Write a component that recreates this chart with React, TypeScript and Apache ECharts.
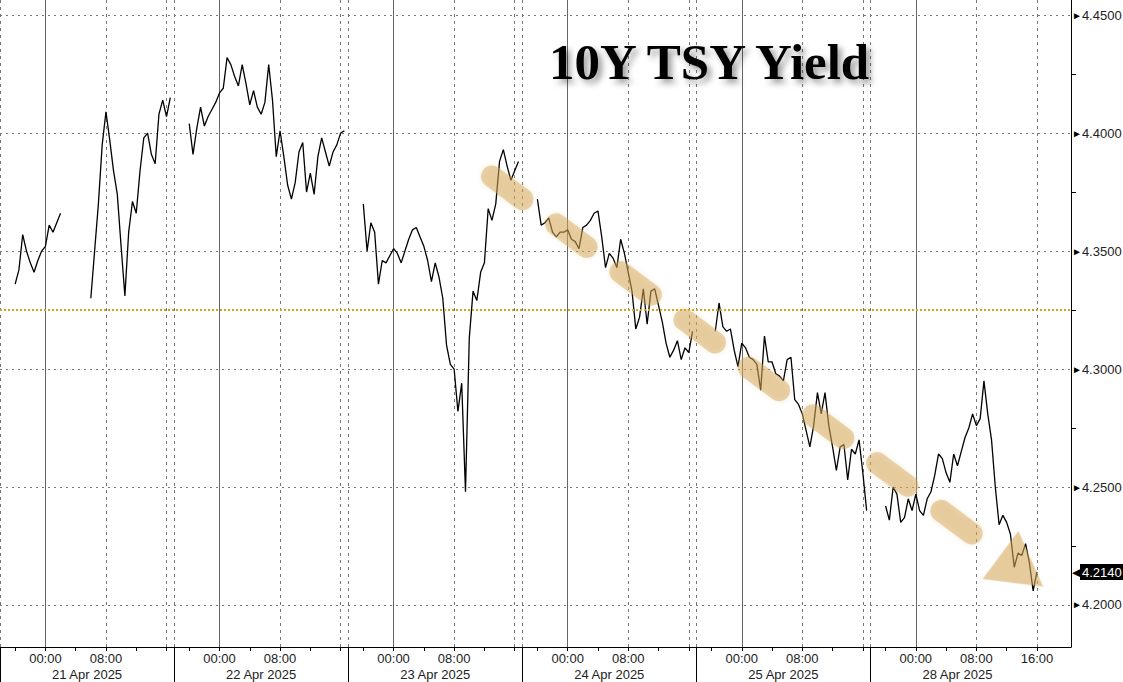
import { useEffect, useRef } from "react";
import * as echarts from "echarts";

// Trading sessions shown on the chart (each session runs 18:00 -> 17:00, 30-min slots)
const days = ["21 Apr 2025", "22 Apr 2025", "23 Apr 2025", "24 Apr 2025", "25 Apr 2025", "28 Apr 2025"];
const SLOTS = 46;
const EXTRA = 8; // empty room after the last session

const _ = null;
// 10Y yield, one value per 30 minutes of each session (null = no trading shown)
const apr21 = [
  _, _, _, _, 4.336, 4.342, 4.357, 4.35, 4.345, 4.341, 4.346, 4.35, 4.352, 4.361, 4.358, 4.362,
  4.366, _, _, _, _, _, _, _, 4.33, 4.35, 4.37, 4.395, 4.409, 4.397, 4.384, 4.374,
  4.352, 4.331, 4.358, 4.371, 4.366, 4.384, 4.398, 4.4, 4.391, 4.387, 4.408, 4.414, 4.407, 4.415,
];
const apr22 = [
  _, _, _, _, 4.404, 4.391, 4.402, 4.411, 4.403, 4.407, 4.41, 4.413, 4.417, 4.419, 4.432, 4.429,
  4.424, 4.42, 4.429, 4.421, 4.412, 4.418, 4.411, 4.408, 4.413, 4.429, 4.414, 4.39, 4.401, 4.39, 4.378, 4.372,
  4.379, 4.392, 4.396, 4.375, 4.383, 4.374, 4.39, 4.398, 4.392, 4.386, 4.392, 4.395, 4.4, 4.401,
];
const apr23 = [
  _, _, _, _, 4.37, 4.35, 4.362, 4.358, 4.336, 4.346, 4.345, 4.348, 4.351, 4.349, 4.345, 4.35,
  4.355, 4.359, 4.36, 4.356, 4.352, 4.346, 4.337, 4.345, 4.339, 4.33, 4.31, 4.302, 4.3, 4.282, 4.294, 4.248,
  4.313, 4.333, 4.329, 4.341, 4.345, 4.368, 4.363, 4.37, 4.388, 4.393, 4.386, 4.38, 4.384, 4.388,
];
const apr24 = [
  _, _, _, _, 4.372, 4.361, 4.362, 4.364, 4.358, 4.356, 4.358, 4.358, 4.359, 4.355, 4.354, 4.351,
  4.36, 4.361, 4.363, 4.366, 4.367, 4.356, 4.343, 4.349, 4.347, 4.343, 4.355, 4.349, 4.341, 4.333, 4.317, 4.322,
  4.334, 4.319, 4.333, 4.334, 4.327, 4.32, 4.311, 4.305, 4.308, 4.312, 4.304, 4.309, 4.307, 4.316,
];
const apr25 = [
  _, _, _, _, _, 4.316, 4.328, 4.318, 4.316, 4.317, 4.308, 4.301, 4.311, 4.309, 4.305, 4.304,
  4.302, 4.291, 4.314, 4.303, 4.303, 4.298, 4.297, 4.295, 4.304, 4.305, 4.287, 4.285, 4.281, 4.274, 4.267, 4.276,
  4.29, 4.281, 4.29, 4.276, 4.267, 4.257, 4.267, 4.268, 4.253, 4.266, 4.264, 4.27, 4.256, 4.24,
];
const apr28 = [
  _, _, _, _, 4.242, 4.236, 4.25, 4.247, 4.235, 4.237, 4.245, 4.24, 4.247, 4.24, 4.238, 4.245,
  4.248, 4.255, 4.264, 4.262, 4.256, 4.252, 4.264, 4.259, 4.265, 4.271, 4.275, 4.281, 4.276, 4.279, 4.295, 4.281,
  4.27, 4.25, 4.234, 4.238, 4.235, 4.23, 4.216, 4.222, 4.221, 4.226, 4.218, 4.206, 4.214, _,
];

const yieldValues = [...apr21, ...apr22, ...apr23, ...apr24, ...apr25, ...apr28, ...Array(EXTRA).fill(null)];
const refLevel = 4.325; // dotted orange reference level
const yRange = [4.1822, 4.4564];

// downtrend arrow annotation, in [slot, yield]
const arrowFrom = [130, 4.3816];
const arrowTo = [257, 4.23];
const arrowHead = [270, 4.2145];

const FONT = '"Liberation Sans", Arial, sans-serif';
const ARROW = "rgba(212, 166, 84, 0.46)";

const slotTime = (s: number) => {
  const m = (18 * 60 + 30 * s) % 1440;
  return `${String(Math.floor(m / 60)).padStart(2, "0")}:${String(m % 60).padStart(2, "0")}`;
};

const categories = [
  ...days.flatMap((d) => Array.from({ length: SLOTS }, (_x, s) => `${d} ${slotTime(s)}`)),
  ...Array.from({ length: EXTRA }, (_x, e) => `${days[days.length - 1]} ${slotTime(SLOTS + e)}`),
];
const N = days.length * SLOTS;
const slotOf = (i: number) => i % SLOTS;
const inSessions = (i: number) => i < N;

const lastValue = [...yieldValues].reverse().find((v) => v != null) as number;

const App = () => {
  const chartRef = useRef<HTMLDivElement>(null);

  useEffect(() => {
    document.body.style.margin = "0";
    const chart = echarts.init(chartRef.current, null, { renderer: "svg" });

    const options = {
      animation: false,
      backgroundColor: "#fff",
      title: {
        text: "10Y TSY Yield",
        left: 544,
        top: 31,
        textStyle: {
          fontFamily: '"Liberation Serif", "Times New Roman", serif',
          fontWeight: "bold",
          fontSize: 51,
          color: "#000",
          textShadowColor: "rgba(0,0,0,0.4)",
          textShadowBlur: 6,
          textShadowOffsetX: 4,
          textShadowOffsetY: 4,
        },
      },
      grid: { left: 0, right: 52, top: 0, bottom: 35, outerBoundsMode: "none" },
      xAxis: [
        {
          type: "category",
          data: categories,
          boundaryGap: false,
          axisLine: { lineStyle: { color: "#000", width: 1 } },
          axisTick: {
            interval: (i: number) => inSessions(i) && slotOf(i) % 8 === 4,
            length: 4,
            lineStyle: { color: "#000" },
          },
          axisLabel: {
            interval: (i: number) => {
              if (!inSessions(i)) return false;
              const s = slotOf(i);
              return s === 12 || s === 28 || (Math.floor(i / SLOTS) === days.length - 1 && s === 44);
            },
            formatter: (v: string) => v.slice(12),
            margin: 5,
            fontSize: 13,
            color: "#222",
            fontFamily: FONT,
          },
          splitLine: {
            show: true,
            interval: (i: number) => inSessions(i) && slotOf(i) === 12,
            lineStyle: { color: "#666", width: 1 },
          },
        },
        {
          type: "category",
          data: categories,
          boundaryGap: false,
          position: "bottom",
          axisLine: { show: false },
          axisTick: {
            interval: (i: number) => inSessions(i) && slotOf(i) === 0,
            length: 35,
            lineStyle: { color: "#000" },
          },
          axisLabel: {
            interval: (i: number) => inSessions(i) && slotOf(i) === 23,
            formatter: (v: string) => v.slice(0, 11),
            margin: 21,
            fontSize: 13,
            color: "#222",
            fontFamily: FONT,
          },
          splitLine: {
            show: true,
            interval: (i: number) => {
              if (!inSessions(i)) return false;
              const s = slotOf(i);
              return s === 0 || s === 28 || s === 44;
            },
            lineStyle: { color: "#777", type: [3, 4] },
          },
        },
      ],
      yAxis: {
        type: "value",
        position: "right",
        min: yRange[0],
        max: yRange[1],
        splitNumber: 5,
        axisLine: { show: true, lineStyle: { color: "#000" } },
        axisTick: { show: false },
        minorTick: { show: true, splitNumber: 2, length: 5, lineStyle: { color: "#000" } },
        axisLabel: {
          margin: 1,
          showMinLabel: false,
          showMaxLabel: false,
          formatter: (v: number) => `{t|►}{v|${v.toFixed(4)}}`,
          rich: {
            t: { fontSize: 10, color: "#000", fontFamily: FONT },
            v: { fontSize: 13, color: "#222", fontFamily: FONT },
          },
        },
        splitLine: {
          show: true,
          showMinLine: false,
          showMaxLine: false,
          lineStyle: { color: "#777", type: [2, 4] },
        },
      },
      series: [
        {
          type: "line",
          data: yieldValues,
          showSymbol: false,
          connectNulls: false,
          lineStyle: { color: "#000", width: 1.3 },
          z: 3,
          markLine: {
            silent: true,
            symbol: "none",
            precision: 4,
            animation: false,
            data: [
              {
                yAxis: refLevel,
                lineStyle: { color: "#d6a21e", type: [2, 2], width: 2 },
                label: { show: false },
              },
              {
                yAxis: lastValue,
                lineStyle: { color: "rgba(0,0,0,0)", width: 0 },
                label: {
                  show: true,
                  position: "end",
                  distance: 1,
                  formatter: () => `{n|◀}{v|${lastValue.toFixed(4)}}`,
                  rich: {
                    n: { fontSize: 11, color: "#000", fontFamily: FONT },
                    v: {
                      fontSize: 13,
                      color: "#fff",
                      backgroundColor: "#000",
                      padding: [2, 3, 1, 2],
                      fontFamily: FONT,
                    },
                  },
                },
              },
              [
                {
                  coord: arrowFrom,
                  lineStyle: {
                    color: ARROW,
                    width: 22,
                    type: [38, 42],
                    cap: "round",
                    shadowBlur: 5,
                    shadowColor: ARROW,
                  },
                  label: { show: false },
                },
                { coord: arrowTo },
              ],
            ],
          },
          markPoint: {
            silent: true,
            animation: false,
            data: [
              {
                coord: arrowHead,
                symbol: "triangle",
                symbolSize: [60, 53],
                symbolRotate: -126.6,
                itemStyle: { color: ARROW, shadowBlur: 5, shadowColor: ARROW },
                label: { show: false },
              },
            ],
          },
        },
      ],
    };

    chart.setOption(options as any);

    return () => {
      chart.dispose();
    };
  }, []);

  return <div ref={chartRef} style={{ width: 1123, height: 682 }} />;
};

export default App;
